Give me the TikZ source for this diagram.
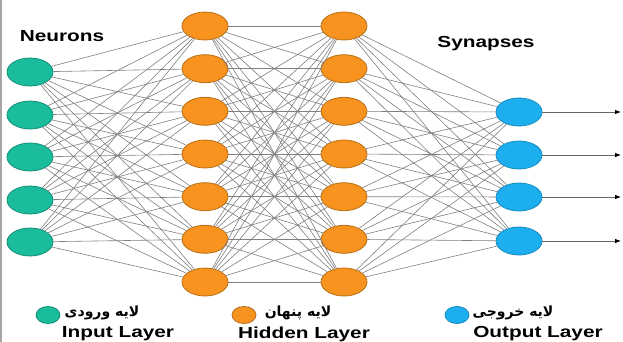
\documentclass[tikz,border=0pt]{standalone}
\usepackage{fontspec}
\setmainfont{Liberation Sans}[FakeStretch=1.3]
\newfontfamily\arabicfont[Script=Arabic]{DejaVu Sans}
\TeXXeTstate=1
\usetikzlibrary{shapes.geometric,arrows.meta}

\definecolor{ingreen}{HTML}{1ABC9C}
\definecolor{hidorange}{HTML}{F7931E}
\definecolor{outblue}{HTML}{1CAEEF}

\tikzset{
  neuron/.style={ellipse, draw, line width=0.8pt, minimum width=46pt,
    minimum height=28pt, inner sep=0pt},
  innode/.style={neuron, fill=ingreen, draw=ingreen!75!black},
  hidnode/.style={neuron, fill=hidorange, draw=hidorange!75!black},
  outnode/.style={neuron, fill=outblue, draw=outblue!80!black},
  keynode/.style={minimum width=24pt, minimum height=17pt},
  synapse/.style={draw=gray, line width=0.6pt},
  title/.style={font=\bfseries\fontsize{16}{18}\selectfont},
  persian/.style={font=\arabicfont\bfseries\fontsize{14}{16}\selectfont}
}

\begin{document}
\begin{tikzpicture}[x=1pt,y=-1pt]
  \useasboundingbox (0,0) rectangle (623,342);
  \fill[white] (0,0) rectangle (623,342);
  \fill[gray!70] (0,0) rectangle (2,342);

  % layers
  \foreach \i/\y in {1/72,2/115,3/157,4/200,5/242}
    \node[innode] (in\i) at (30,\y) {};
  \foreach \i/\y in {1/26,2/68.7,3/111.3,4/154,5/196.7,6/239.3,7/282} {
    \node[hidnode] (ha\i) at (205,\y) {};
    \node[hidnode] (hb\i) at (344,\y) {};
  }
  \foreach \i/\y in {1/112,2/155,3/197,4/241} {
    \node[outnode] (out\i) at (519,\y) {};
    \coordinate (end\i) at (621,\y);
  }

  % synapses
  \foreach \i in {1,...,5}
    \foreach \j in {1,...,7}
      \draw[synapse] (in\i) -- (ha\j);
  \foreach \i in {1,...,7}
    \foreach \j in {1,...,7}
      \draw[synapse] (ha\i) -- (hb\j);
  \foreach \i in {1,...,7}
    \foreach \j in {1,...,4}
      \draw[synapse] (hb\i) -- (out\j);

  % outputs
  \foreach \i in {1,...,4}
    \draw[draw=gray!80!black, line width=0.8pt, -{Latex[length=6pt,width=4.5pt,black]}]
      (out\i) -- (end\i);

  \node[title] (neurons) at (62,36) {Neurons};
  \node[title] (synapses) at (486,44) {Synapses};

  % legend
  \node[innode, keynode] (keyin) at (48,315) {};
  \node[persian] (faIn) at (102,313) {\beginR لایه ورودی\endR};
  \node[title] (enIn) at (118,334) {Input Layer};
  \node[hidnode, keynode] (keyhid) at (244,315) {};
  \node[persian] (faHid) at (298,313) {\beginR لایه پنهان\endR};
  \node[title] (enHid) at (304,334) {Hidden Layer};
  \node[outnode, keynode] (keyout) at (457,315) {};
  \node[persian] (faOut) at (513,313) {\beginR لایه خروجی\endR};
  \node[title] (enOut) at (538,334) {Output Layer};
\end{tikzpicture}
\end{document}
